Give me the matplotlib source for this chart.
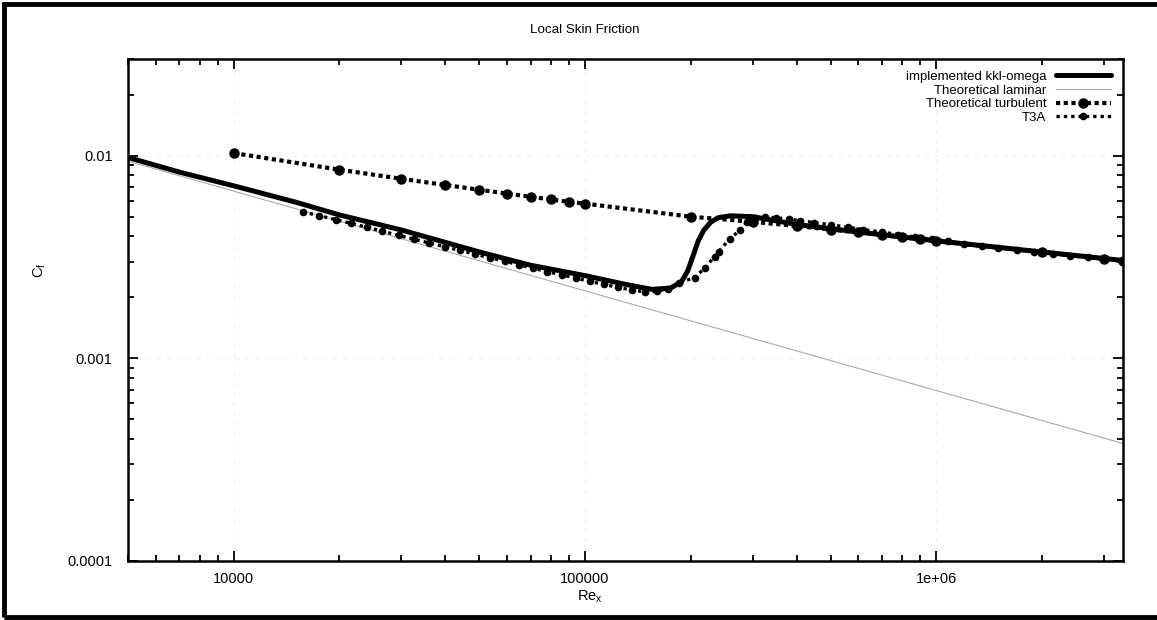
import matplotlib
matplotlib.use('agg')
from matplotlib import pyplot as plt
from matplotlib import ticker
from matplotlib.patches import Rectangle

plt.rcParams['font.family'] = ['Liberation Sans', 'DejaVu Sans']
plt.rcParams['mathtext.fontset'] = 'custom'
plt.rcParams['mathtext.rm'] = 'Liberation Sans'
plt.rcParams['mathtext.it'] = 'Liberation Sans'

# Theoretical laminar (straight in log-log, two ends)
lam_re = [5000, 3.4e6]
lam_cf = [0.0094, 0.00038]

# Theoretical turbulent
turb_re = [1e4, 2e4, 3e4, 4e4, 5e4, 6e4, 7e4, 8e4, 9e4, 1e5,
           2e5, 3e5, 4e5, 5e5, 6e5, 7e5, 8e5, 9e5, 1e6, 2e6, 3e6, 3.4e6]
turb_cf = [0.0103, 0.00853, 0.00769, 0.00717, 0.00679, 0.00650, 0.00627, 0.00608, 0.00592, 0.00580,
           0.00500, 0.00472, 0.00450, 0.00432, 0.00418, 0.00406, 0.00396, 0.00387, 0.00379,
           0.00334, 0.00310, 0.00303]

# implemented kkl-omega
kkl_re = [5000, 7000, 10000, 15000, 20000, 30000, 50000, 70000, 100000, 130000,
          155000, 175000, 188000, 196000, 203000, 210000, 218000, 228000, 240000,
          260000, 300000, 400000, 600000, 1e6, 2e6, 3.4e6]
kkl_cf = [0.0098, 0.0083, 0.0071, 0.0059, 0.0051, 0.0043, 0.00335, 0.00288, 0.00256, 0.00232,
          0.00219, 0.00222, 0.00238, 0.0027, 0.0032, 0.0038, 0.0043, 0.0047, 0.00495,
          0.00505, 0.00500, 0.00458, 0.00420, 0.00380, 0.00335, 0.00304]

# T3A experiment
t3a_re = [15700, 17500, 19500, 21500, 24000, 26500, 29500, 32500, 36000, 40000,
          44000, 48500, 53500, 59000, 65000, 71000, 78000, 86000, 94000, 103000,
          113000, 124000, 136000, 148000, 160000, 172000, 185000, 205000, 219000, 234000,
          240000, 258000, 277000, 290000, 305000, 325000, 350000, 380000, 410000, 450000,
          500000, 560000, 620000, 700000, 780000, 870000, 970000, 1.08e6, 1.2e6, 1.35e6,
          1.5e6, 1.7e6, 1.9e6, 2.15e6, 2.4e6, 2.7e6, 3.0e6, 3.4e6]
t3a_cf = [0.00528, 0.00506, 0.00484, 0.00464, 0.00443, 0.00424, 0.00404, 0.00388, 0.00371, 0.00355,
          0.00341, 0.00327, 0.00314, 0.00302, 0.00289, 0.00279, 0.00268, 0.00258, 0.00249, 0.00240,
          0.00232, 0.00224, 0.00217, 0.00213, 0.00214, 0.00221, 0.00236, 0.00250, 0.00279, 0.00318,
          0.00336, 0.00388, 0.00431, 0.00472, 0.00492, 0.00498, 0.00494, 0.00486, 0.00478, 0.00468,
          0.00456, 0.00444, 0.00432, 0.00420, 0.00408, 0.00397, 0.00387, 0.00378, 0.00368, 0.00360,
          0.00352, 0.00343, 0.00336, 0.00328, 0.00321, 0.00315, 0.00309, 0.00303]

fig = plt.figure(figsize=(11.57, 6.2), dpi=100)
ax = fig.add_axes([128 / 1157, 59 / 620, 995 / 1157, 502 / 620])

ax.plot(kkl_re, kkl_cf, color='black', lw=3.6, solid_capstyle='round',
        label='implemented kkl-omega', zorder=4)
ax.plot(lam_re, lam_cf, color='#aaaaaa', lw=0.8, label='Theoretical laminar', zorder=2)
ax.plot(turb_re, turb_cf, color='black', lw=3.0, linestyle=(0, (1.0, 0.85)),
        marker='o', ms=6.5, label='Theoretical turbulent', zorder=3)
ax.plot(t3a_re, t3a_cf, color='black', lw=2.4, linestyle=(0, (1.0, 1.2)),
        marker='o', ms=4.5, label='T3A', zorder=3)

ax.set_xscale('log')
ax.set_yscale('log')
ax.set_xlim(5000, 3.4e6)
ax.set_ylim(1e-4, 0.03)

ax.xaxis.set_major_locator(ticker.FixedLocator([1e4, 1e5, 1e6]))
ax.xaxis.set_major_formatter(ticker.FixedFormatter(['10000', '100000', '1e+06']))
ax.yaxis.set_major_locator(ticker.FixedLocator([1e-4, 1e-3, 1e-2]))
ax.yaxis.set_major_formatter(ticker.FixedFormatter(['0.0001', '0.001', '0.01']))
ax.xaxis.set_minor_locator(ticker.LogLocator(base=10, subs=range(2, 10), numticks=20))
ax.yaxis.set_minor_locator(ticker.LogLocator(base=10, subs=range(2, 10), numticks=20))
ax.xaxis.set_minor_formatter(ticker.NullFormatter())
ax.yaxis.set_minor_formatter(ticker.NullFormatter())

ax.tick_params(which='both', direction='in', top=True, right=True, width=1.3, labelsize=10.5)
ax.tick_params(which='major', length=7)
ax.tick_params(which='minor', length=4)
ax.tick_params(axis='x', pad=8)
ax.tick_params(axis='y', pad=11)
for s in ax.spines.values():
    s.set_linewidth(1.8)

ax.grid(True, which='major', color='#ededed', lw=0.7, linestyle=(0, (4, 6)))

# gnuplot centres the title on the canvas, not on the plot box
fig.text(585 / 1157, 1 - 30 / 620, 'Local Skin Friction', fontsize=9.6,
         ha='center', va='center')
ax.set_xlabel('Re$_x$', fontsize=10.5)
ax.xaxis.set_label_coords((590 - 128) / 995, (561 - 597) / 502)
ax.xaxis.label.set_va('center')
ax.set_ylabel('C$_f$', fontsize=10.5)
ax.yaxis.set_label_coords((40 - 128) / 995, (561 - 270) / 502)
ax.yaxis.label.set_va('center')

ax.legend(loc='upper right', frameon=False, markerfirst=False, alignment='right',
          fontsize=9.5, handlelength=4.2, numpoints=1, labelspacing=0.1,
          handletextpad=0.7, borderaxespad=0.6, borderpad=0.3)

# outer frame of the picture
fig.add_artist(Rectangle((4 / 1157, 3 / 620), 1.2, 613 / 620, transform=fig.transFigure,
                         fill=False, edgecolor='black', lw=3.5))

fig.savefig('out.png', dpi=100)
